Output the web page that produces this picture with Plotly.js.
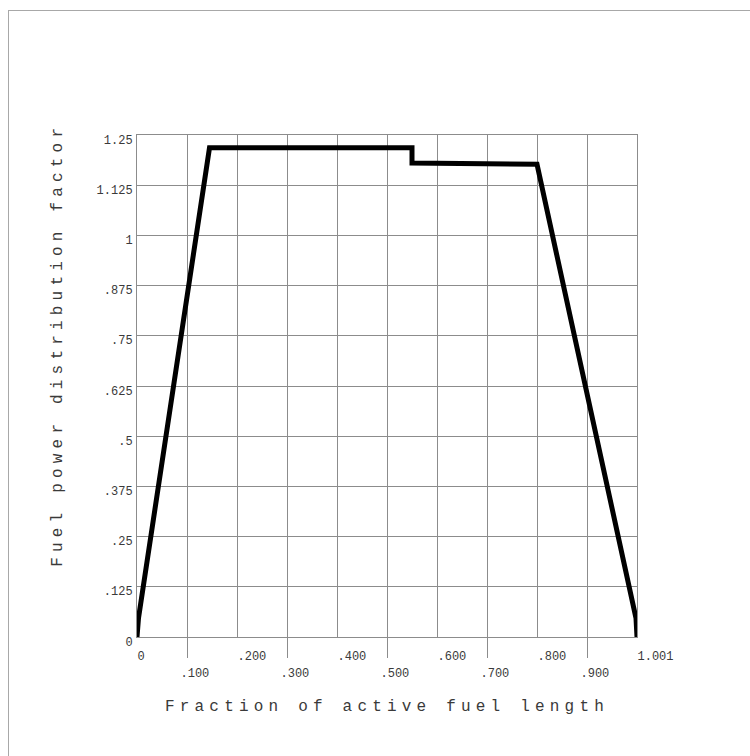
<!DOCTYPE html>
<html>
<head>
<meta charset="utf-8">
<script src="https://cdn.plot.ly/plotly-3.0.1.min.js"></script>
<style>
  html, body { margin:0; padding:0; background:#fff; overflow:hidden; }
  #wrap { position:relative; width:750px; height:756px; }
  #frame { position:absolute; left:8px; top:10px; width:900px; height:900px;
           border-top:1px solid #a8a8a8; border-left:1px solid #a8a8a8; pointer-events:none; }
  #chart { position:absolute; left:0; top:0; width:750px; height:756px; }
  .xtitle, .annotation-text { letter-spacing:5.2px; }
</style>
</head>
<body>
<div id="wrap">
  <div id="chart"></div>
  <div id="frame"></div>
</div>
<script>
// Data
const fraction = [0, 0.003, 0.145, 0.55, 0.55, 0.80, 0.998, 1.0];
const powerFactor = [0, 0.047, 1.218, 1.218, 1.18, 1.177, 0.047, 0];

const yTickVals = [0, 0.125, 0.25, 0.375, 0.5, 0.625, 0.75, 0.875, 1, 1.125, 1.25];
const yTickText = ['0', '.125', '.25', '.375', '.5', '.625', '.75', '.875', '1', '1.125', '1.25'];
const xEvenVals = [0, 0.2, 0.4, 0.6, 0.8, 1.0];
const xEvenText = ['0', '.200', '.400', '.600', '.800', '1.001'];
const xOddVals = [0.1, 0.3, 0.5, 0.7, 0.9];
const xOddText = ['.100', '.300', '.500', '.700', '.900'];
const xTitle = 'Fraction of active fuel length';
const yTitle = 'Fuel power distribution factor';

const fontFam = '"Liberation Mono", "DejaVu Sans Mono", monospace';
const gridCol = '#8c8c8c';
const textCol = '#3a3a3a';

const trace = {
  x: fraction, y: powerFactor, type: 'scatter', mode: 'lines',
  line: { color: '#000', width: 5, shape: 'linear' },
  hoverinfo: 'skip', showlegend: false
};
// invisible trace bound to the second x axis so it renders
const trace2 = { x: [0, 1], y: [0, 0], xaxis: 'x2', type: 'scatter', mode: 'lines',
  line: { color: 'rgba(0,0,0,0)', width: 0 }, hoverinfo: 'skip', showlegend: false };

const layout = {
  width: 750, height: 756,
  margin: { l: 137, r: 113, t: 135, b: 119 },
  paper_bgcolor: 'rgba(0,0,0,0)', plot_bgcolor: '#fff',
  font: { family: fontFam, color: textCol, size: 12 },
  xaxis: {
    range: [0, 1], tickvals: xEvenVals, ticktext: xEvenText,
    showgrid: true, gridcolor: gridCol, gridwidth: 1,
    showline: true, linecolor: gridCol, linewidth: 1, mirror: true,
    ticks: '', ticklabelposition: 'outside right', ticklabelstandoff: 8,
    zeroline: false, fixedrange: true,
    tickfont: { family: fontFam, size: 12, color: textCol },
    title: { text: xTitle, standoff: 36,
             font: { family: fontFam, size: 16, color: textCol } }
  },
  xaxis2: {
    overlaying: 'x', matches: 'x', anchor: 'y', side: 'bottom',
    range: [0, 1], tickvals: xOddVals, ticktext: xOddText,
    showgrid: true, gridcolor: gridCol, gridwidth: 1,
    showline: false, zeroline: false,
    ticks: 'outside', ticklen: 20, tickcolor: gridCol, tickwidth: 1,
    ticklabelposition: 'outside right', ticklabelstandoff: 25,
    ticklabelshift: -7,
    tickfont: { family: fontFam, size: 12, color: textCol }
  },
  yaxis: {
    range: [0, 1.25], tickvals: yTickVals, ticktext: yTickText,
    showgrid: true, gridcolor: gridCol, gridwidth: 1,
    showline: true, linecolor: gridCol, linewidth: 1, mirror: true,
    ticks: '', ticklabelposition: 'outside bottom', ticklabelstandoff: 1,
    ticklabelshift: -4,
    zeroline: false, fixedrange: true,
    tickfont: { family: fontFam, size: 12, color: textCol }
  },
  annotations: [{
    text: yTitle, textangle: -90, showarrow: false,
    xref: 'paper', yref: 'paper', x: -0.158, y: 0.582,
    xanchor: 'center', yanchor: 'middle',
    font: { family: fontFam, size: 16, color: textCol }
  }]
};

Plotly.newPlot('chart', [trace, trace2], layout, { staticPlot: true, displayModeBar: false });
</script>
</body>
</html>
